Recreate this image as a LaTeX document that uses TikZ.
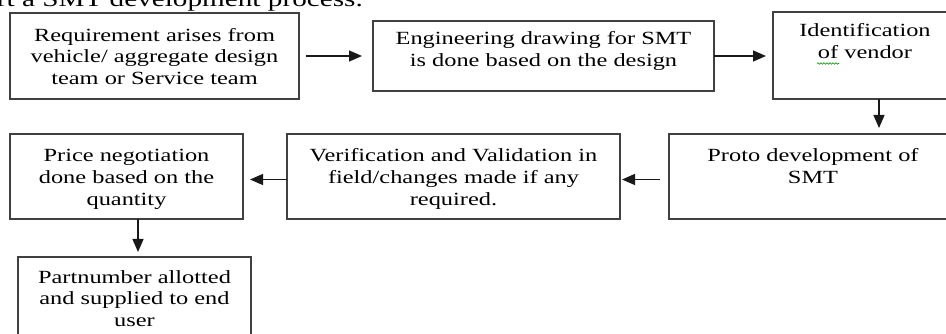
\documentclass[tikz,border=0pt]{standalone}
\usepackage{fontspec}
\setmainfont{Liberation Serif}[FakeStretch=1.31]
\usetikzlibrary{arrows.meta,calc,decorations.pathmorphing}
\newcommand\bxt[4]{\parbox[c][#2][t]{#1}{\centering\vspace*{\dimexpr#3-13.5pt\relax}\rule{0pt}{13.5pt}#4\par}}
\tikzset{
  box/.style={draw=black!75, line width=1.2pt, inner sep=0pt, outer sep=0pt,
    font=\fontsize{18.6}{21.7}\selectfont},
  arr/.style={-{Triangle[length=13pt,width=11pt]}, line width=1.3pt, draw=black!90},
  topt/.style={inner sep=0pt, font=\fontsize{22.3}{26}\selectfont},
  squig/.style={draw=green!55!black, line width=0.6pt, decorate,
    decoration={snake, amplitude=0.8pt, segment length=3pt}}
}
\begin{document}
\begin{tikzpicture}[x=1pt,y=-1pt]
\useasboundingbox (0,0) rectangle (946,334);
\clip (0,0) rectangle (946,334);
\fill[white] (0,0) rectangle (946,334);
\node[topt, anchor=base east] (title) at (363,7) {rt a SMT development process.};
\node[box] (b1) at (154.5,56) {\bxt{289pt}{86pt}{28.3pt}{Requirement arises from\\vehicle/ aggregate design\\team or Service team}};
\node[box] (b2) at (543.5,56) {\bxt{341pt}{70pt}{24pt}{Engineering drawing for SMT\\is done based on the design}};
\node[box] (b3) at (865,55.5) {\bxt{184pt}{87pt}{25pt}{Identification\\of vendor}};
\node[box] (b6) at (813,176.5) {\bxt{288pt}{85pt}{28pt}{Proto development of\\SMT}};
\node[box] (b5) at (453.5,176.5) {\bxt{333pt}{85pt}{28pt}{Verification and Validation in\\field/changes made if any\\required.}};
\node[box] (b4) at (126.5,176.5) {\bxt{233pt}{85pt}{27.7pt}{Price negotiation\\done based on the\\quantity}};
\node[box] (b7) at (134.5,303.5) {\bxt{233pt}{93pt}{26pt}{Partnumber allotted\\and supplied to end\\user}};
\draw[arr] ([xshift=7pt]b1.east) -- ([xshift=-11pt]b1.east -| b2.west);
\draw[arr] (b2.east) -- ([xshift=-7pt]b2.east -| b3.west);
\draw[arr] ([xshift=14pt]b3.south) -- ([xshift=14pt,yshift=6pt]b3.south |- b6.north);
\draw[arr] ([xshift=-9pt,yshift=-3pt]b6.west) -- ([xshift=2pt,yshift=-3pt]b6.west -| b5.east);
\draw[arr] ([yshift=-3pt]b5.west) -- ([xshift=7pt,yshift=-3pt]b5.west -| b4.east);
\draw[arr] ([xshift=11.5pt]b4.south) -- ([xshift=11.5pt,yshift=5pt]b4.south |- b7.north);
\draw[squig] (817,63.5) -- (839,63.5);
\end{tikzpicture}
\end{document}
